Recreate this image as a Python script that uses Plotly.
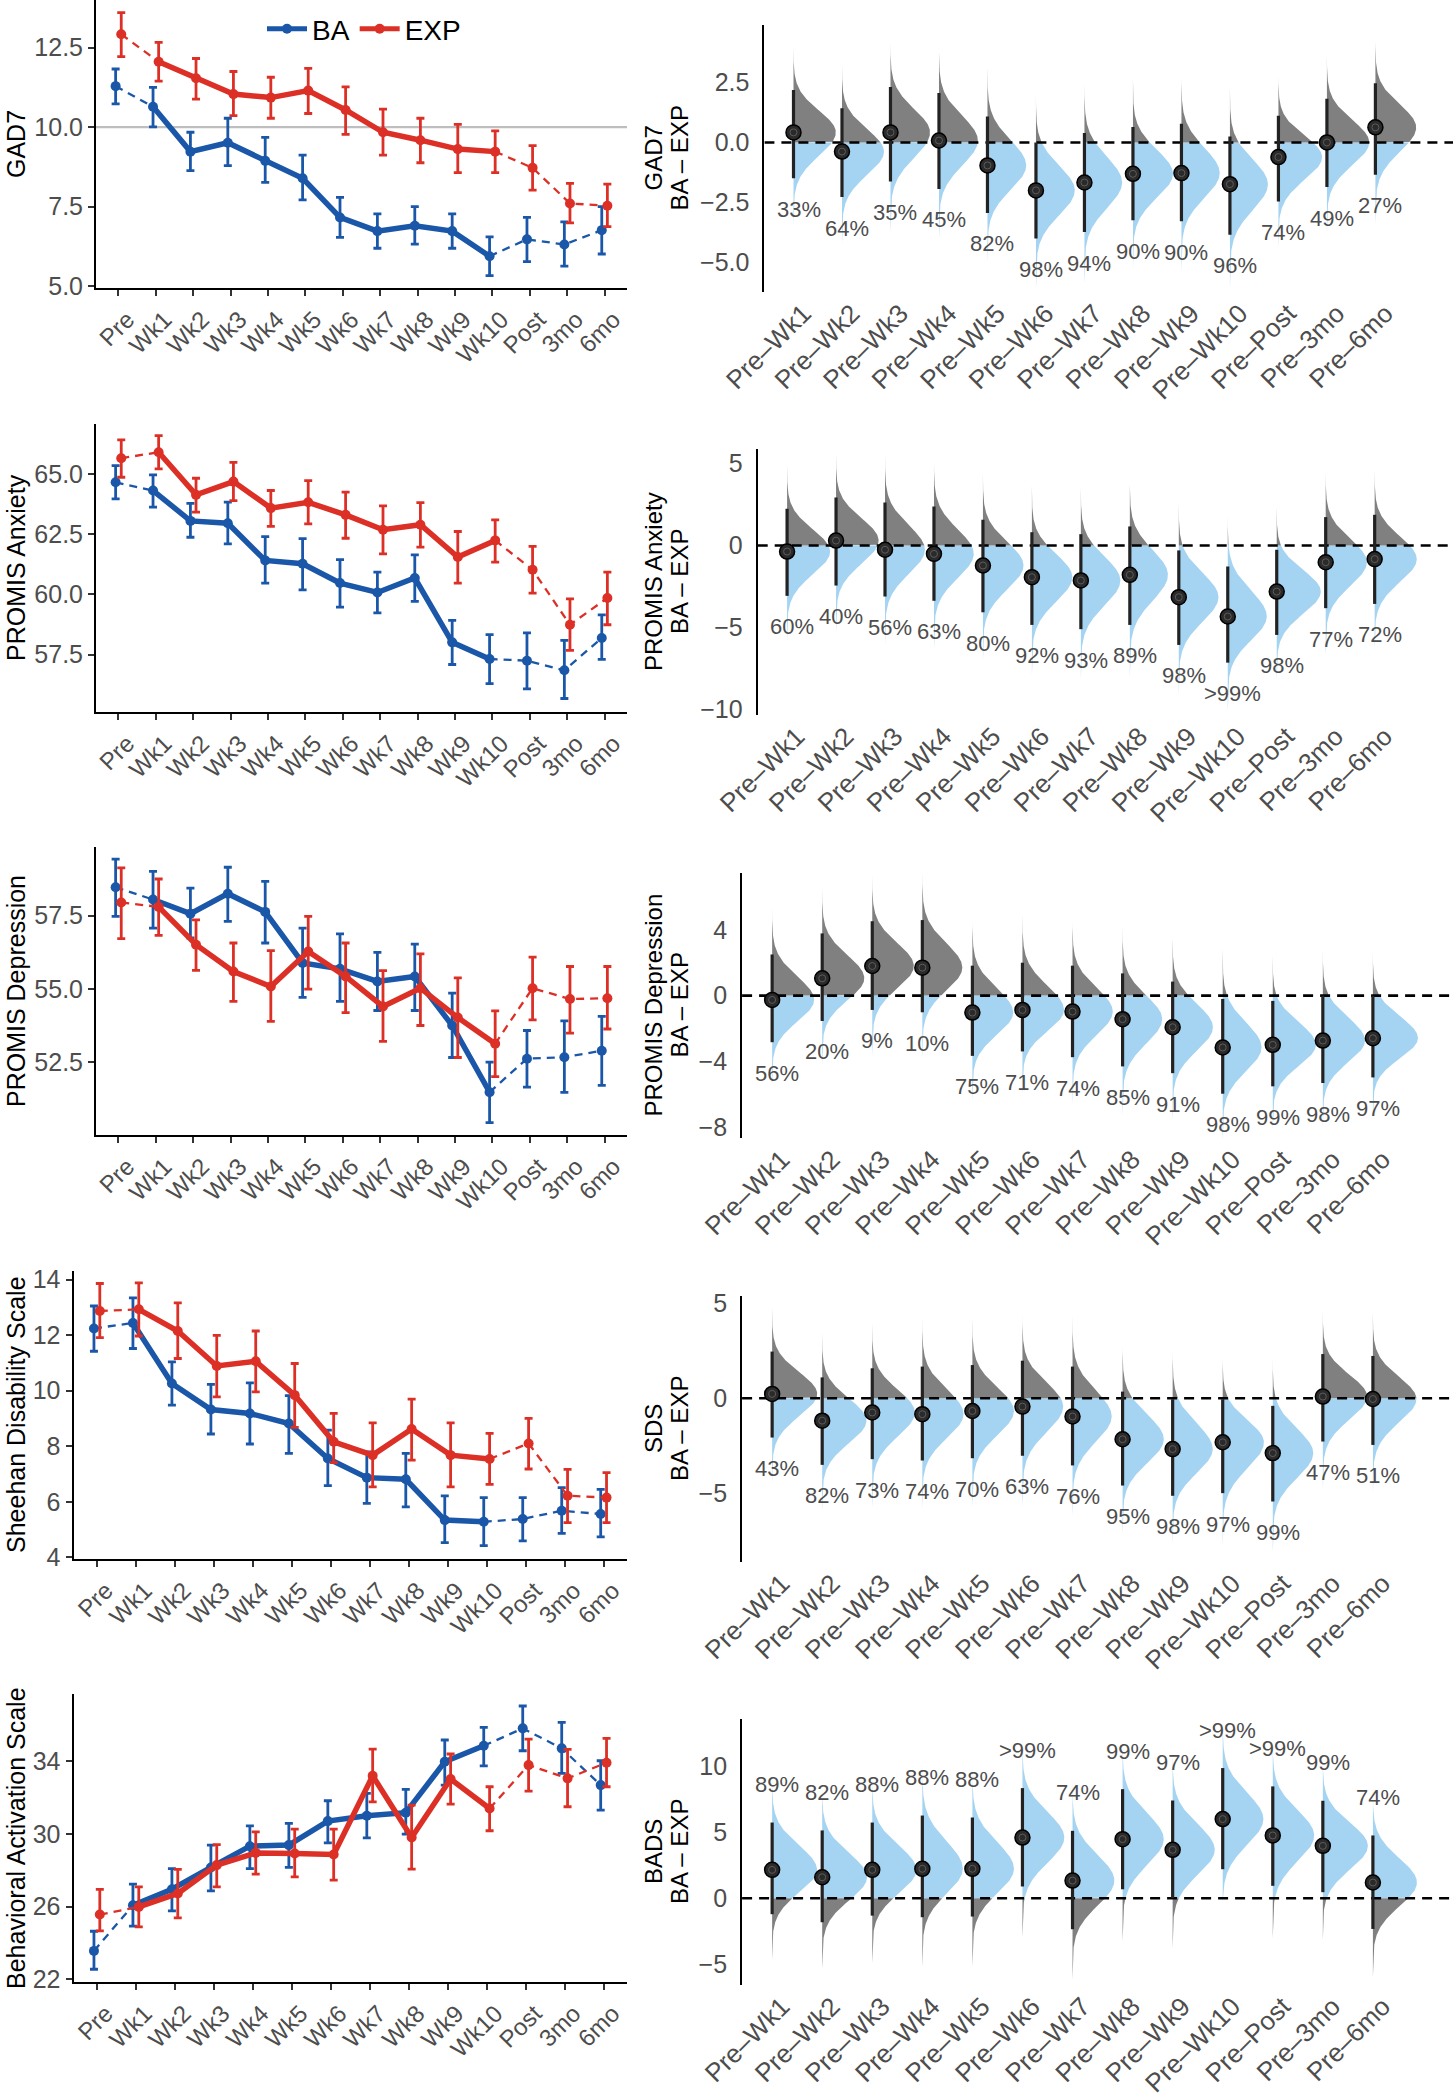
import numpy as np
import plotly.graph_objects as go

# ---------------- data ----------------
TIMEPOINTS = ["Pre", "Wk1", "Wk2", "Wk3", "Wk4", "Wk5", "Wk6", "Wk7", "Wk8", "Wk9", "Wk10", "Post", "3mo", "6mo"]
COMPARISONS = ["Pre–Wk1", "Pre–Wk2", "Pre–Wk3", "Pre–Wk4", "Pre–Wk5", "Pre–Wk6", "Pre–Wk7",
               "Pre–Wk8", "Pre–Wk9", "Pre–Wk10", "Pre–Post", "Pre–3mo", "Pre–6mo"]
GROUPS = ["BA", "EXP"]
GAD7_CUTOFF = 10.0

GAD7_BA_MEAN = [11.29, 10.64, 9.23, 9.51, 8.94, 8.39, 7.16, 6.73, 6.90, 6.73, 5.94, 6.47, 6.31, 6.76]
GAD7_BA_HI = [11.83, 11.25, 9.84, 10.28, 9.68, 9.12, 7.79, 7.27, 7.50, 7.27, 6.55, 7.16, 7.02, 7.50]
GAD7_BA_LO = [10.73, 10.01, 8.63, 8.79, 8.26, 7.71, 6.53, 6.19, 6.32, 6.19, 5.33, 5.77, 5.63, 6.01]
GAD7_EXP_MEAN = [12.92, 12.06, 11.54, 11.04, 10.93, 11.15, 10.54, 9.84, 9.59, 9.31, 9.23, 8.72, 7.60, 7.53]
GAD7_EXP_HI = [13.60, 12.67, 12.16, 11.75, 11.57, 11.85, 11.27, 10.57, 10.28, 10.09, 9.88, 9.42, 8.23, 8.21]
GAD7_EXP_LO = [12.22, 11.45, 10.88, 10.36, 10.28, 10.43, 9.77, 9.12, 8.88, 8.57, 8.57, 8.02, 6.99, 6.87]

ANX_BA_MEAN = [64.65, 64.31, 63.05, 62.95, 61.41, 61.27, 60.47, 60.08, 60.68, 58.01, 57.32, 57.25, 56.85, 58.19]
ANX_BA_HI = [65.34, 64.96, 63.78, 63.83, 62.40, 62.31, 61.44, 60.92, 61.64, 58.92, 58.33, 58.40, 58.09, 59.15]
ANX_BA_LO = [63.96, 63.62, 62.37, 62.10, 60.47, 60.19, 59.47, 59.23, 59.71, 57.09, 56.30, 56.08, 55.68, 57.30]
ANX_EXP_MEAN = [65.65, 65.90, 64.13, 64.68, 63.58, 63.82, 63.30, 62.68, 62.89, 61.55, 62.24, 61.02, 58.74, 59.85]
ANX_EXP_HI = [66.41, 66.59, 64.82, 65.48, 64.31, 64.72, 64.24, 63.67, 63.81, 62.61, 63.09, 61.99, 59.81, 60.92]
ANX_EXP_LO = [64.86, 65.21, 63.41, 63.89, 62.82, 62.93, 62.33, 61.68, 61.96, 60.47, 61.34, 60.05, 57.68, 58.74]

DEP_BA_MEAN = [58.47, 58.05, 57.57, 58.25, 57.63, 55.89, 55.69, 55.26, 55.43, 53.76, 51.49, 52.63, 52.68, 52.90]
DEP_BA_HI = [59.43, 59.01, 58.44, 59.15, 58.67, 57.08, 56.88, 56.25, 56.53, 54.86, 52.51, 53.59, 53.92, 54.07]
DEP_BA_LO = [57.48, 57.08, 56.74, 57.31, 56.57, 54.72, 54.58, 54.27, 54.27, 52.67, 50.45, 51.66, 51.48, 51.72]
DEP_EXP_MEAN = [57.95, 57.80, 56.51, 55.60, 55.09, 56.28, 55.43, 54.41, 55.03, 54.03, 53.14, 55.03, 54.66, 54.69]
DEP_EXP_HI = [59.13, 58.75, 57.36, 56.57, 56.31, 57.48, 56.57, 55.63, 56.20, 55.38, 54.26, 56.09, 55.77, 55.77]
DEP_EXP_LO = [56.72, 56.83, 55.64, 54.58, 53.90, 55.00, 54.20, 53.22, 53.76, 52.67, 52.02, 53.95, 53.50, 53.64]

SDS_BA_MEAN = [12.24, 12.44, 10.26, 9.32, 9.18, 8.82, 7.56, 6.87, 6.81, 5.34, 5.28, 5.38, 5.68, 5.56]
SDS_BA_HI = [13.05, 13.34, 11.04, 10.23, 10.28, 9.82, 8.58, 7.80, 7.74, 6.21, 6.15, 6.15, 6.51, 6.45]
SDS_BA_LO = [11.42, 11.52, 9.48, 8.44, 8.08, 7.74, 6.58, 5.94, 5.82, 4.53, 4.42, 4.59, 4.86, 4.74]
SDS_EXP_MEAN = [12.87, 12.93, 12.15, 10.89, 11.06, 9.84, 8.16, 7.68, 8.62, 7.68, 7.54, 8.10, 6.22, 6.15]
SDS_EXP_HI = [13.86, 13.88, 13.16, 11.99, 12.15, 10.98, 9.18, 8.84, 9.70, 8.84, 8.46, 9.00, 7.17, 7.05]
SDS_EXP_LO = [11.91, 11.97, 11.16, 9.78, 9.96, 8.68, 7.41, 6.54, 7.50, 6.54, 6.63, 7.18, 5.25, 5.25]

BAS_BA_MEAN = [23.56, 26.07, 26.95, 28.15, 29.32, 29.38, 30.70, 30.99, 31.16, 33.96, 34.84, 35.80, 34.70, 32.68]
BAS_BA_HI = [24.64, 27.23, 28.09, 29.38, 30.44, 30.57, 31.82, 32.22, 32.44, 35.16, 35.85, 37.03, 36.13, 34.02]
BAS_BA_LO = [22.55, 24.92, 25.76, 26.86, 28.09, 28.15, 29.50, 29.78, 29.98, 32.68, 33.74, 34.57, 33.32, 31.30]
BAS_EXP_MEAN = [25.56, 25.98, 26.72, 28.28, 28.95, 28.92, 28.86, 33.19, 29.80, 33.01, 31.39, 33.78, 33.05, 33.91]
BAS_EXP_HI = [26.94, 27.08, 28.04, 29.41, 30.11, 30.26, 30.26, 34.66, 31.58, 34.39, 32.59, 35.21, 34.64, 35.25]
BAS_EXP_LO = [24.66, 24.88, 25.38, 27.08, 27.78, 27.63, 27.45, 31.76, 28.06, 31.63, 30.17, 32.35, 31.49, 32.59]

GAD7_DIFF_MED = [0.42, -0.38, 0.42, 0.08, -0.96, -2.00, -1.67, -1.31, -1.28, -1.74, -0.61, 0.00, 0.63]
GAD7_DIFF_LO = [-1.49, -2.28, -1.63, -1.94, -2.94, -4.01, -3.74, -3.25, -3.29, -3.85, -2.46, -1.86, -1.35]
GAD7_DIFF_HI = [2.19, 1.43, 2.31, 2.06, 1.08, 0.00, 0.39, 0.64, 0.78, 0.25, 1.11, 1.82, 2.47]
GAD7_PCT = ["33%", "64%", "35%", "45%", "82%", "98%", "94%", "90%", "90%", "96%", "74%", "49%", "27%"]

ANX_DIFF_MED = [-0.37, 0.30, -0.26, -0.51, -1.22, -1.93, -2.13, -1.79, -3.15, -4.33, -2.81, -1.02, -0.83]
ANX_DIFF_LO = [-3.07, -2.44, -3.11, -3.37, -4.07, -4.84, -5.10, -4.84, -6.06, -7.14, -5.45, -3.82, -3.56]
ANX_DIFF_HI = [2.24, 2.93, 2.62, 2.38, 1.57, 0.81, 0.69, 1.16, -0.30, -1.28, -0.26, 1.73, 1.87]
ANX_PCT = ["60%", "40%", "56%", "63%", "80%", "92%", "93%", "89%", "98%", ">99%", "98%", "77%", "72%"]

DEP_DIFF_MED = [-0.26, 1.05, 1.80, 1.70, -1.03, -0.87, -0.97, -1.43, -1.92, -3.15, -2.99, -2.73, -2.59]
DEP_DIFF_LO = [-2.83, -1.54, -0.87, -1.01, -3.66, -3.39, -3.74, -4.30, -4.71, -5.96, -5.51, -5.31, -4.97]
DEP_DIFF_HI = [2.50, 3.78, 4.52, 4.59, 1.82, 2.00, 1.82, 1.35, 0.85, -0.20, -0.32, 0.00, 0.00]
DEP_PCT = ["56%", "20%", "9%", "10%", "75%", "71%", "74%", "85%", "91%", "98%", "99%", "98%", "97%"]

SDS_DIFF_MED = [0.23, -1.18, -0.75, -0.84, -0.67, -0.44, -0.96, -2.16, -2.68, -2.32, -2.89, 0.09, -0.04]
SDS_DIFF_LO = [-2.07, -3.51, -3.21, -3.28, -3.16, -3.03, -3.54, -4.60, -5.14, -5.00, -5.44, -2.28, -2.46]
SDS_DIFF_HI = [2.46, 1.10, 1.58, 1.67, 1.75, 1.98, 1.67, 0.35, -0.05, -0.05, -0.40, 2.33, 2.23]
SDS_PCT = ["43%", "82%", "73%", "74%", "70%", "63%", "76%", "95%", "98%", "97%", "99%", "47%", "51%"]

BADS_DIFF_MED = [2.15, 1.59, 2.15, 2.23, 2.23, 4.60, 1.34, 4.48, 3.67, 6.00, 4.76, 3.97, 1.19]
BADS_DIFF_LO = [-1.21, -1.82, -1.32, -1.44, -1.39, 0.89, -2.35, 0.68, 0.00, 2.20, 0.94, 0.46, -2.33]
BADS_DIFF_HI = [5.74, 5.14, 5.74, 6.27, 6.12, 8.35, 5.11, 8.27, 7.41, 9.87, 8.48, 7.39, 4.76]
BADS_PCT = ["89%", "82%", "88%", "88%", "88%", ">99%", "74%", "99%", "97%", ">99%", ">99%", "99%", "74%"]

# ---------------- styling / layout ----------------
W, H = 1453, 2100
BA_COL = "#1B57A8"
EXP_COL = "#DC3027"
BLUE_FILL = "#A5D4F2"
GREY_FILL = "#808080"
TICK_COL = "#4D4D4D"
FONT = "Liberation Sans, Arial, sans-serif"
DODGE = 0.075

left_specs = [
    dict(title="GAD7", ba=(GAD7_BA_MEAN, GAD7_BA_LO, GAD7_BA_HI), exp=(GAD7_EXP_MEAN, GAD7_EXP_LO, GAD7_EXP_HI),
         px=(96, 627, 0, 288), yr=(4.94, 14.0), tv=[5, 7.5, 10, 12.5], fmt=".1f"),
    dict(title="PROMIS Anxiety", ba=(ANX_BA_MEAN, ANX_BA_LO, ANX_BA_HI), exp=(ANX_EXP_MEAN, ANX_EXP_LO, ANX_EXP_HI),
         px=(96, 627, 424, 712), yr=(55.12, 67.07), tv=[57.5, 60, 62.5, 65], fmt=".1f"),
    dict(title="PROMIS Depression", ba=(DEP_BA_MEAN, DEP_BA_LO, DEP_BA_HI), exp=(DEP_EXP_MEAN, DEP_EXP_LO, DEP_EXP_HI),
         px=(96, 627, 847, 1135), yr=(50.03, 59.84), tv=[52.5, 55, 57.5], fmt=".1f"),
    dict(title="Sheehan Disability Scale", ba=(SDS_BA_MEAN, SDS_BA_LO, SDS_BA_HI), exp=(SDS_EXP_MEAN, SDS_EXP_LO, SDS_EXP_HI),
         px=(73.5, 627, 1271, 1559), yr=(3.94, 14.31), tv=[4, 6, 8, 10, 12, 14], fmt="d"),
    dict(title="Behavioral Activation Scale", ba=(BAS_BA_MEAN, BAS_BA_LO, BAS_BA_HI), exp=(BAS_EXP_MEAN, BAS_EXP_LO, BAS_EXP_HI),
         px=(73.5, 627, 1694, 1982), yr=(21.85, 37.69), tv=[22, 26, 30, 34], fmt="d"),
]
RIGHT_XR = (-0.6, 13.6)
right_specs = [
    dict(title="GAD7", med=GAD7_DIFF_MED, lo=GAD7_DIFF_LO, hi=GAD7_DIFF_HI, pct=GAD7_PCT, good_below=True,
         px=(764.4, 1453, 25, 292), yr=(-6.24, 4.90), tv=[-5, -2.5, 0, 2.5], fmt=".1f"),
    dict(title="PROMIS Anxiety", med=ANX_DIFF_MED, lo=ANX_DIFF_LO, hi=ANX_DIFF_HI, pct=ANX_PCT, good_below=True,
         px=(757.7, 1453, 449, 715), yr=(-10.33, 5.88), tv=[-10, -5, 0, 5], fmt="d"),
    dict(title="PROMIS Depression", med=DEP_DIFF_MED, lo=DEP_DIFF_LO, hi=DEP_DIFF_HI, pct=DEP_PCT, good_below=True,
         px=(742.1, 1453, 873, 1138), yr=(-8.65, 7.45), tv=[-8, -4, 0, 4], fmt="d"),
    dict(title="SDS", med=SDS_DIFF_MED, lo=SDS_DIFF_LO, hi=SDS_DIFF_HI, pct=SDS_PCT, good_below=True,
         px=(742.1, 1453, 1296, 1562), yr=(-8.63, 5.39), tv=[-5, 0, 5], fmt="d"),
    dict(title="BADS", med=BADS_DIFF_MED, lo=BADS_DIFF_LO, hi=BADS_DIFF_HI, pct=BADS_PCT, good_below=False,
         px=(742.1, 1453, 1719, 1985), yr=(-6.58, 13.59), tv=[-5, 0, 5, 10], fmt="d"),
]

fig = go.Figure()
annotations = []
shapes = []
layout = {}


def dom(px):
    x0, x1, ytop, ybot = px
    return [x0 / W, x1 / W], [1 - ybot / H, 1 - ytop / H]


def axname(k):
    return ("x" if k == 1 else f"x{k}"), ("y" if k == 1 else f"y{k}")


# ---------- left panels ----------
for p, spec in enumerate(left_specs):
    k = p + 1
    xa, ya = axname(k)
    xd, yd = dom(spec["px"])
    idx = np.arange(len(TIMEPOINTS))
    xr = [-0.6, len(TIMEPOINTS) - 1 + 0.6]
    for g, (series, col, off) in enumerate([(spec["ba"], BA_COL, -DODGE), (spec["exp"], EXP_COL, DODGE)]):
        mean, lo, hi = (np.array(s, dtype=float) for s in series)
        xs = idx + off
        # dashed segments: Pre-Wk1 and Wk10-Post-3mo-6mo
        dx = list(xs[0:2]) + [None] + list(xs[10:])
        dy = list(mean[0:2]) + [None] + list(mean[10:])
        fig.add_trace(go.Scatter(x=dx, y=dy, mode="lines", xaxis=xa, yaxis=ya, showlegend=False,
                                 line=dict(color=col, width=2.3, dash="8px,6px"), hoverinfo="skip"))
        fig.add_trace(go.Scatter(x=xs[1:11], y=mean[1:11], mode="lines", xaxis=xa, yaxis=ya, showlegend=False,
                                 line=dict(color=col, width=5.5), hoverinfo="skip"))
        fig.add_trace(go.Scatter(x=xs, y=mean, mode="markers", xaxis=xa, yaxis=ya, showlegend=False,
                                 marker=dict(color=col, size=10),
                                 error_y=dict(type="data", symmetric=False, array=hi - mean,
                                              arrayminus=mean - lo, color=col, thickness=2.8, width=4)))
    layout["xaxis" if k == 1 else f"xaxis{k}"] = dict(
        domain=xd, anchor=ya, range=xr, tickmode="array", automargin=False,
        tickvals=list(idx), ticktext=TIMEPOINTS, tickangle=-45, ticklabelshift=9,
        showline=True, linecolor="black",
        linewidth=2, ticks="outside", ticklen=6, tickwidth=1.5, tickcolor="#333333", showgrid=False,
        zeroline=False, tickfont=dict(family=FONT, size=24, color=TICK_COL))
    layout["yaxis" if k == 1 else f"yaxis{k}"] = dict(
        domain=yd, anchor=xa, range=list(spec["yr"]), tickmode="array", tickvals=spec["tv"],
        tickformat=spec["fmt"], showline=True, linecolor="black", linewidth=2, ticks="outside",
        ticklen=6, tickwidth=1.5, tickcolor="#333333", showgrid=False, zeroline=False, automargin=False,
        tickfont=dict(family=FONT, size=25, color=TICK_COL))
    annotations.append(dict(text=spec["title"], xref="paper", yref="paper", x=16 / W,
                            y=(yd[0] + yd[1]) / 2, textangle=-90, showarrow=False,
                            xanchor="center", yanchor="middle",
                            font=dict(family=FONT, size=25, color="black")))
    if k == 1:
        shapes.append(dict(type="line", xref=xa, yref=ya, x0=xr[0], x1=xr[1],
                           y0=GAD7_CUTOFF, y1=GAD7_CUTOFF, layer="below",
                           line=dict(color="#BEBEBE", width=2.2)))

# legend entries
for name, col in zip(GROUPS, [BA_COL, EXP_COL]):
    fig.add_trace(go.Scatter(x=[None], y=[None], mode="lines+markers", name=name,
                             line=dict(color=col, width=5), marker=dict(color=col, size=10)))


# ---------- right panels ----------
def slab_width(y, med, s_lo, s_hi):
    s = np.where(y < med, s_lo, s_hi)
    a = 2.0 / (np.sqrt(2 * np.pi) * (s_lo + s_hi))
    return a * np.exp(-0.5 * ((y - med) / s) ** 2)


for p, spec in enumerate(right_specs):
    k = p + 6
    xa, ya = axname(k)
    xd, yd = dom(spec["px"])
    med = np.array(spec["med"], dtype=float)
    lo = np.array(spec["lo"], dtype=float)
    hi = np.array(spec["hi"], dtype=float)
    s_lo = (med - lo) / 1.96
    s_hi = (hi - med) / 1.96
    peak = 2.0 / (np.sqrt(2 * np.pi) * (s_lo + s_hi))
    scale = 0.9 / peak.max()
    neg_x, neg_y, pos_x, pos_y = [], [], [], []
    for i in range(len(COMPARISONS)):
        y0, y1 = med[i] - 4 * s_lo[i], med[i] + 4 * s_hi[i]
        ys = np.linspace(y0, y1, 301)
        if y0 < 0 < y1:
            ys = np.sort(np.append(ys, 0.0))
        w = scale * slab_width(ys, med[i], s_lo[i], s_hi[i])
        for mask, bx, by in [(ys <= 0, neg_x, neg_y), (ys >= 0, pos_x, pos_y)]:
            if mask.sum() < 2:
                continue
            yy = ys[mask]
            ww = w[mask]
            bx += [i] + list(i + ww) + [i, i, None]
            by += [yy[0]] + list(yy) + [yy[-1], yy[0], None]
    below_col, above_col = (BLUE_FILL, GREY_FILL) if spec["good_below"] else (GREY_FILL, BLUE_FILL)
    fig.add_trace(go.Scatter(x=neg_x, y=neg_y, mode="lines", fill="toself", fillcolor=below_col,
                             line=dict(width=0, color=below_col), xaxis=xa, yaxis=ya,
                             showlegend=False, hoverinfo="skip"))
    fig.add_trace(go.Scatter(x=pos_x, y=pos_y, mode="lines", fill="toself", fillcolor=above_col,
                             line=dict(width=0, color=above_col), xaxis=xa, yaxis=ya,
                             showlegend=False, hoverinfo="skip"))
    # zero reference line
    fig.add_trace(go.Scatter(x=list(RIGHT_XR), y=[0, 0], mode="lines", xaxis=xa, yaxis=ya,
                             line=dict(color="black", width=2.6, dash="10px,7px"),
                             showlegend=False, hoverinfo="skip"))
    # intervals
    ix, iy = [], []
    for i in range(len(COMPARISONS)):
        ix += [i, i, None]
        iy += [lo[i], hi[i], None]
    fig.add_trace(go.Scatter(x=ix, y=iy, mode="lines", xaxis=xa, yaxis=ya,
                             line=dict(color="#222222", width=3.2), showlegend=False, hoverinfo="skip"))
    xi = np.arange(len(COMPARISONS))
    fig.add_trace(go.Scatter(x=xi, y=med, mode="markers", xaxis=xa, yaxis=ya, showlegend=False,
                             marker=dict(size=15, color="#2a2a2a", line=dict(color="black", width=1.5))))
    fig.add_trace(go.Scatter(x=xi, y=med, mode="markers", xaxis=xa, yaxis=ya, showlegend=False,
                             hoverinfo="skip",
                             marker=dict(size=7, symbol="circle-open", color="#5c5c5c", line=dict(width=1))))
    layout[f"xaxis{k}"] = dict(
        domain=xd, anchor=ya, range=list(RIGHT_XR), tickmode="array", tickvals=list(xi), automargin=False,
        ticktext=COMPARISONS, tickangle=-45, ticklabelshift=10, showline=False, ticks="",
        showgrid=False, zeroline=False, tickfont=dict(family=FONT, size=26, color=TICK_COL))
    layout[f"yaxis{k}"] = dict(
        domain=yd, anchor=xa, range=list(spec["yr"]), tickmode="array", tickvals=spec["tv"],
        tickformat=spec["fmt"], showline=True, linecolor="black", linewidth=2, ticks="",
        ticklabelstandoff=8, showgrid=False, zeroline=False, automargin=False,
        tickfont=dict(family=FONT, size=25, color=TICK_COL))
    ymid = (yd[0] + yd[1]) / 2
    for txt, xp in [(spec["title"], 653), ("BA – EXP", 679)]:
        annotations.append(dict(text=txt, xref="paper", yref="paper", x=xp / W, y=ymid,
                                textangle=-90, showarrow=False, xanchor="center", yanchor="middle",
                                font=dict(family=FONT, size=24, color="black")))
    for i, t in enumerate(spec["pct"]):
        if spec["good_below"]:
            annotations.append(dict(text=t, xref=xa, yref=ya, x=i, y=lo[i], yshift=-31, xshift=5,
                                    showarrow=False, font=dict(family=FONT, size=22, color=TICK_COL)))
        else:
            annotations.append(dict(text=t, xref=xa, yref=ya, x=i, y=hi[i], yshift=38, xshift=5,
                                    showarrow=False, font=dict(family=FONT, size=22, color=TICK_COL)))

fig.update_layout(
    template="none",
    width=W, height=H, margin=dict(l=0, r=0, t=0, b=0, autoexpand=False),
    paper_bgcolor="white", plot_bgcolor="white",
    annotations=annotations, shapes=shapes,
    legend=dict(orientation="h", x=262 / W, y=1 - 4 / H, xanchor="left", yanchor="top",
                font=dict(family=FONT, size=28, color="black"), itemwidth=40, bgcolor="rgba(0,0,0,0)"),
    **layout)

fig.write_html("out.html", config={"displayModeBar": False},
               post_script="document.body.style.margin='0px';")
